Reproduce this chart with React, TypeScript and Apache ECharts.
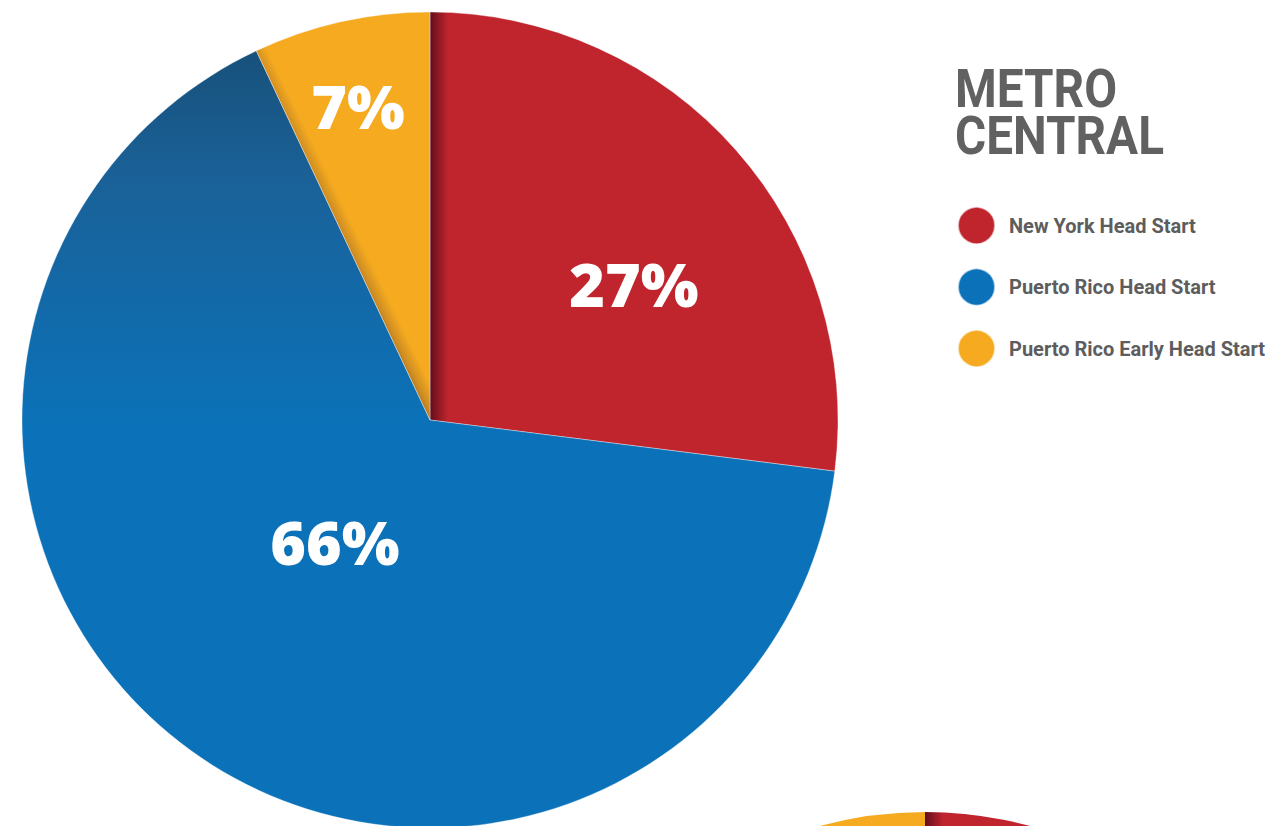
import React, { useEffect, useRef } from "react";
import * as echarts from "echarts";

const categories = ["New York Head Start", "Puerto Rico Head Start", "Puerto Rico Early Head Start"];
const metroCentral = [27, 66, 7];
// second (next) region's pie, only its top edge is visible at the bottom of the page
const nextRegion = [25, 65, 10];
const title = "METRO\nCENTRAL";

const RED = "#c0242d";
const BLUE = "#0b72b9";
const YELLOW = "#f5aa1f";
const SOLID = [RED, BLUE, YELLOW];

export default function App() {
  const ref = useRef<HTMLDivElement>(null);
  useEffect(() => {
    const chart = echarts.init(ref.current!, null, { renderer: "svg" });
    const cx = 430, cy = 420, r = 408;
    const cx2 = 925, cy2 = 1214, r2 = 402;

    const redGrad = (x0: number) => new echarts.graphic.LinearGradient(x0, 0, x0 + 18, 0, [
      { offset: 0, color: "#5e0d1c" },
      { offset: 0.25, color: "#7a1420" },
      { offset: 1, color: RED },
    ], true);
    const blueGrad = new echarts.graphic.LinearGradient(0, 40, 0, 430, [
      { offset: 0, color: "#174f78" },
      { offset: 0.35, color: "#1a6198" },
      { offset: 1, color: BLUE },
    ], true);
    // yellow shadow perpendicular to its left edge
    const ex = 252 - cx, ey = 55 - cy;
    const len = Math.hypot(ex, ey);
    const px = -ey / len, py = ex / len;
    const mx = cx + ex * 0.5, my = cy + ey * 0.5;
    const yellowGrad = new echarts.graphic.LinearGradient(mx, my, mx + px * 16, my + py * 16, [
      { offset: 0, color: "#b57a25" },
      { offset: 0.3, color: "#d18f23" },
      { offset: 1, color: YELLOW },
    ], true);

    const colors1 = [redGrad(430), blueGrad, yellowGrad];
    const colors2 = [redGrad(925), BLUE, YELLOW];

    const labelPos = [
      [634, 283],
      [335, 541],
      [358, 105],
    ];

    chart.setOption({
      animation: false,
      color: SOLID,
      legend: {
        orient: "vertical",
        left: 952,
        top: 201,
        icon: "circle",
        itemWidth: 37,
        itemHeight: 37,
        itemGap: 22.5,
        data: categories.map((name, i) => ({ name, itemStyle: { color: SOLID[i] } })),
        selectedMode: false,
        textStyle: {
          fontFamily: "Roboto",
          fontWeight: 700,
          fontSize: 20,
          color: "#5d5d5d",
          padding: [0, 0, 0, 9],
        },
      },
      series: [
        {
          type: "pie",
          name: "Metro Central",
          center: [cx, cy],
          radius: [0, r],
          startAngle: 90,
          clockwise: true,
          label: { show: false },
          labelLine: { show: false },
          emphasis: { disabled: true },
          itemStyle: { borderColor: "rgba(255,255,255,0.6)", borderWidth: 0.6 },
          data: categories.map((name, i) => ({
            name,
            value: metroCentral[i],
            itemStyle: { color: colors1[i] },
          })),
        },
        {
          type: "pie",
          name: "Next region",
          center: [cx2, cy2],
          radius: [0, r2],
          startAngle: 90,
          clockwise: true,
          label: { show: false },
          labelLine: { show: false },
          emphasis: { disabled: true },
          data: categories.map((name, i) => ({
            name,
            value: nextRegion[i],
            itemStyle: { color: colors2[i] },
          })),
        },
      ],
      graphic: [
        {
          type: "text",
          left: 955,
          top: 62,
          scaleX: 0.9,
          z: 100,
          style: {
            text: title,
            fontFamily: "Roboto",
            fontWeight: 700,
            fontSize: 53,
            lineHeight: 47,
            fill: "#616161",
          },
        },
        ...metroCentral.map((v, i) => ({
          type: "text",
          x: labelPos[i][0],
          y: labelPos[i][1],
          z: 100,
          style: {
            text: v + "%",
            fontFamily: "Open Sans",
            fontWeight: 800,
            fontSize: 61,
            fill: "#ffffff",
            align: "center",
            verticalAlign: "middle",
          },
        })),
      ],
    });
    return () => chart.dispose();
  }, []);
  return (
    <div
      ref={ref}
      style={{ position: "absolute", left: 0, top: 0, width: 1276, height: 826, background: "#fff" }}
    />
  );
}
